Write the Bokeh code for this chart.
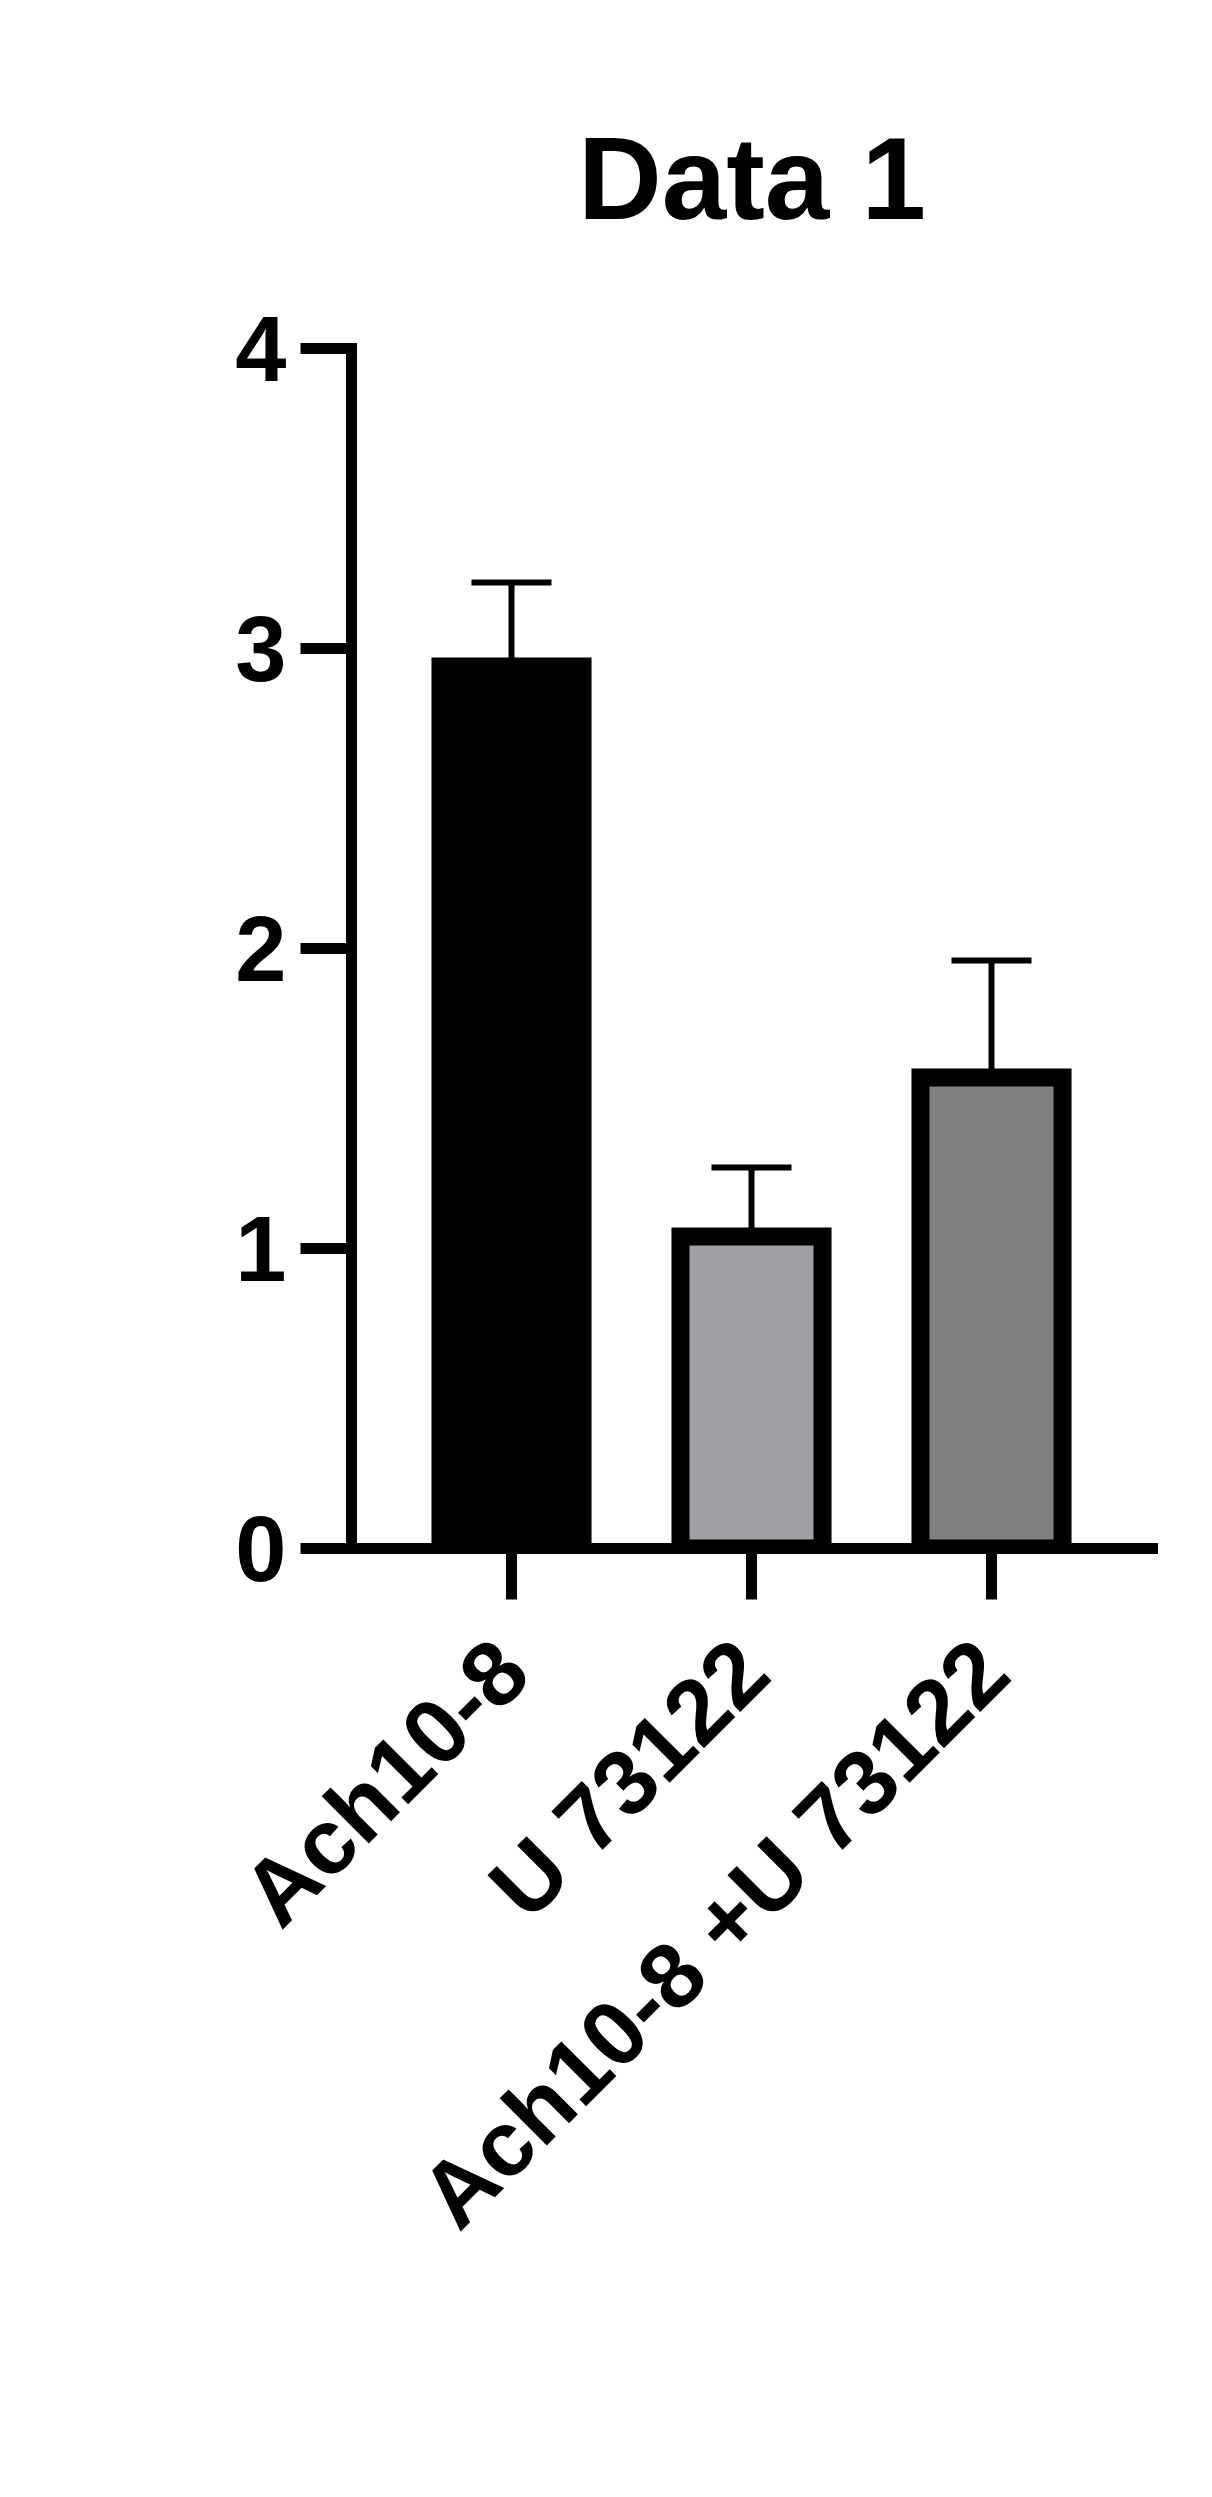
from bokeh.plotting import figure
from bokeh.models import Range1d, FixedTicker, Whisker, TeeHead, ColumnDataSource
from bokeh.embed import file_html
from bokeh.resources import INLINE

# ---- data ----
title_text = "Data 1"
categories = ["Ach10-8", "U 73122", "Ach10-8 +U 73122"]
means = [2.94, 1.04, 1.57]
sds = [0.28, 0.23, 0.39]
fills = ["#000000", "#A0A0A4", "#808080"]
y_ticks = [0, 1, 2, 3, 4]

xs = list(range(1, len(categories) + 1))
uppers = [m + s for m, s in zip(means, sds)]

src = ColumnDataSource(dict(x=xs, top=means, upper=uppers, fill=fills))

FONT = "Liberation Sans"

p = figure(
    width=1196, height=2481,
    x_range=Range1d(1 - 160 / 240, 1 + 641 / 240),
    y_range=Range1d(0, 4),
    output_backend="svg", toolbar_location=None,
    min_border_left=351, min_border_top=348,
    min_border_right=44, min_border_bottom=933,
    title=title_text,
)
p.background_fill_color = "white"
p.border_fill_color = "white"
p.outline_line_color = None
p.grid.visible = False

p.title.text_font = FONT
p.title.text_font_style = "bold"
p.title.text_font_size = "116px"
p.title.align = "center"
p.title.text_color = "black"
p.title.vertical_align = "top"
p.title.standoff = 206

p.vbar(x="x", top="top", bottom=0, width=0.592, source=src,
       fill_color="fill", line_color="black", line_width=18,
       line_join="miter")

p.add_layout(Whisker(source=src, base="x", upper="upper", lower="top",
                     line_width=6, line_color="black",
                     upper_head=TeeHead(size=80, line_width=6, line_color="black"),
                     lower_head=None))

for ax in (p.xaxis[0], p.yaxis[0]):
    ax.axis_line_width = 11
    ax.axis_line_color = "black"
    ax.axis_line_cap = "square"
    ax.major_tick_line_width = 11
    ax.major_tick_line_color = "black"
    ax.major_tick_in = 0
    ax.minor_tick_line_color = None
    ax.major_label_text_font = FONT
    ax.major_label_text_font_style = "bold"
    ax.major_label_text_color = "black"

p.yaxis.ticker = FixedTicker(ticks=y_ticks)
p.yaxis.major_tick_out = 51
p.yaxis.major_label_standoff = 14
p.yaxis.major_label_text_font_size = "92px"

p.xaxis.ticker = FixedTicker(ticks=xs)
p.xaxis.major_label_overrides = {x: c for x, c in zip(xs, categories)}
p.xaxis.major_tick_out = 51
p.xaxis.major_label_standoff = 56
p.xaxis.major_label_text_font_size = "92px"
p.xaxis.major_label_orientation = 0.7853981633974483

open("out.html", "w").write(file_html(p, INLINE))
